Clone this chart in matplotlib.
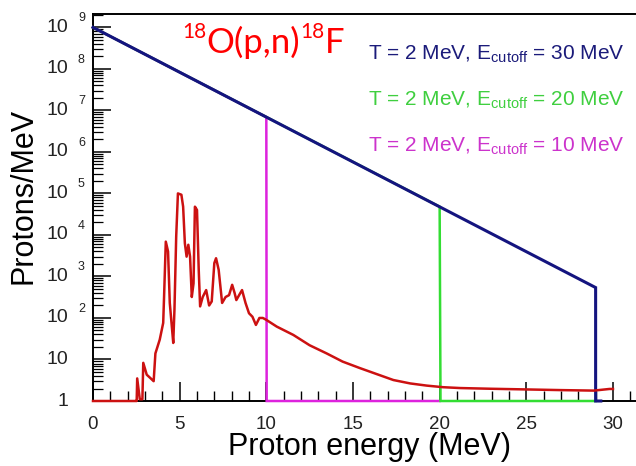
import matplotlib
matplotlib.use("Agg")
import matplotlib.pyplot as plt
from matplotlib.ticker import MultipleLocator, LogLocator, NullFormatter
import matplotlib.transforms as mtransforms

# ---------------- data ----------------
blue_E = [0, 29.0, 29.0, 29.3]
blue_N = [1e9, 540, 1, 1]

green_E = [0, 20.0, 20.05, 29.0]
green_N = [1e9, 4.8e4, 1, 1]

magenta_E = [0, 10.0, 10.02, 20.0]
magenta_N = [1e9, 6.9e6, 1, 1]

red_E = [0, 2.5, 2.52, 2.55, 2.7, 2.85, 2.9, 3.1, 3.3, 3.5, 3.6, 3.85, 4.05, 4.1,
         4.2, 4.33, 4.43, 4.53, 4.63, 4.7, 4.8, 4.9, 5.1, 5.2, 5.3, 5.4, 5.5, 5.6,
         5.7, 5.8, 5.88, 6.0, 6.1, 6.18, 6.33, 6.53, 6.7, 6.85, 7.0, 7.1, 7.25,
         7.45, 7.65, 7.85, 8.03, 8.17, 8.27, 8.43, 8.6, 8.8, 9.0, 9.2, 9.4, 9.6,
         9.8, 10.0, 10.6, 11.56, 12.5, 13.48, 14.4, 15.4, 16.4, 17.33, 18.3, 19.25,
         20.2, 21.2, 23.0, 25.0, 27.0, 28.9, 29.8, 30.0]
red_N = [1, 1, 1, 3.5, 1.1, 1.1, 8.3, 4.3, 3.6, 3.0, 14, 30, 76, 320,
         6900, 4000, 230, 76, 25, 160, 9100, 1.0e5, 9.3e4, 4.8e4, 6300, 3000, 5800, 3000,
         320, 680, 4.8e4, 4.0e4, 1450, 190, 320, 470, 200, 250, 2100, 2750, 1450,
         230, 320, 355, 630, 400, 270, 355, 470, 230, 130, 107, 68, 100,
         100, 90, 62, 39, 22, 14, 8.9, 6.2, 4.4, 3.2, 2.65, 2.35,
         2.15, 2.05, 1.97, 1.9, 1.83, 1.78, 1.95, 1.95]

xticks = [0, 5, 10, 15, 20, 25, 30]
xtick_labels = ["0", "5", "10", "15", "20", "25", "30"]
ytick_vals = [1, 10, 1e2, 1e3, 1e4, 1e5, 1e6, 1e7, 1e8, 1e9]
ytick_base = ["1", "10", "10", "10", "10", "10", "10", "10", "10", "10"]
ytick_exp = ["", "", "2", "3", "4", "5", "6", "7", "8", "9"]

title_pieces = ["18", "O(p,n)", "18", "F"]
title_is_sup = [True, False, True, False]

legend_texts = [r"T = 2 MeV, E$\mathregular{_{cutoff}}$ = 30 MeV",
                r"T = 2 MeV, E$\mathregular{_{cutoff}}$ = 20 MeV",
                r"T = 2 MeV, E$\mathregular{_{cutoff}}$ = 10 MeV"]
legend_colors = ["#1b1b7a", "#3fcf3f", "#cc33cc"]

# ---------------- figure ----------------
W, H = 636, 466
fig = plt.figure(figsize=(W / 100, H / 100), dpi=100)
ax = fig.add_axes([93 / W, 1 - 401 / H, (640 - 93) / W, (401 - 14) / H])
ax.set_yscale("log")
ax.set_xlim(0, 31.56)
ax.set_ylim(1, 2.1e9)

kw = dict(clip_on=False, zorder=3, solid_joinstyle="miter")
ax.plot(magenta_E, magenta_N, color="#dd22dd", lw=1.8, **kw)
ax.plot(green_E, green_N, color="#33dd33", lw=1.8, **kw)
ax.plot(red_E, red_N, color="#cc1111", lw=1.8, clip_on=False, zorder=4)
ax.plot(blue_E, blue_N, color="#14147f", lw=2.2, **kw)

for s in ["left", "bottom", "top"]:
    ax.spines[s].set_linewidth(1.4)
ax.spines["right"].set_visible(False)

ax.set_xticks(xticks)
ax.xaxis.set_minor_locator(MultipleLocator(1))
ax.set_xticklabels(xtick_labels, fontsize=13.5, family="Liberation Sans", color="#222222")
ax.tick_params(axis="x", which="major", direction="in", length=14, width=1.1, pad=11)
ax.tick_params(axis="x", which="minor", direction="in", length=7, width=1.0)
ax.yaxis.set_major_locator(LogLocator(base=10, numticks=20))
ax.yaxis.set_minor_locator(LogLocator(base=10, subs=range(2, 10), numticks=20))
ax.yaxis.set_major_formatter(NullFormatter())
ax.yaxis.set_minor_formatter(NullFormatter())
ax.tick_params(axis="y", which="major", direction="in", length=13, width=1.1)
ax.tick_params(axis="y", which="minor", direction="in", length=7, width=0.9)
ax.tick_params(top=False, right=False)

# y tick labels drawn as base + raised exponent
trans_base = mtransforms.blended_transform_factory(ax.transAxes, ax.transData)
for v, b, e in zip(ytick_vals, ytick_base, ytick_exp):
    t = trans_base + mtransforms.ScaledTranslation(-25 / 100, 0, fig.dpi_scale_trans)
    ax.text(0, v, b, transform=t, ha="right", va="center", fontsize=14,
            family="Liberation Sans", color="#222222")
    if e:
        t2 = trans_base + mtransforms.ScaledTranslation(-15 / 100, 9 / 100, fig.dpi_scale_trans)
        ax.text(0, v, e, transform=t2, ha="left", va="center", fontsize=9,
                family="Liberation Sans", color="#222222")

fig.text(370 / W, 1 - 447 / H, "Proton energy (MeV)", ha="center", va="center",
         fontsize=22, family="Liberation Sans")
fig.text(24 / W, 1 - 196 / H, "Protons/MeV", ha="center", va="center",
         rotation=90, fontsize=22, family="Liberation Sans")

# title built from pieces
renderer = fig.canvas.get_renderer()
x = 182.0
base_y = 53.0
for piece, sup in zip(title_pieces, title_is_sup):
    size = 15 if sup else 25
    y = base_y - 15 if sup else base_y
    t = fig.text(x / W, 1 - y / H, piece, ha="left", va="baseline", fontsize=size,
                 family="Lato", color="#ff0000")
    bb = t.get_window_extent(renderer)
    x = bb.x1 + 0.5

for i, (txt, c) in enumerate(zip(legend_texts, legend_colors)):
    fig.text(625 / W, 1 - (60 + 46 * i) / H, txt, ha="right", va="baseline",
             fontsize=15, family="Liberation Sans", color=c)

fig.savefig("out.png", dpi=100)
